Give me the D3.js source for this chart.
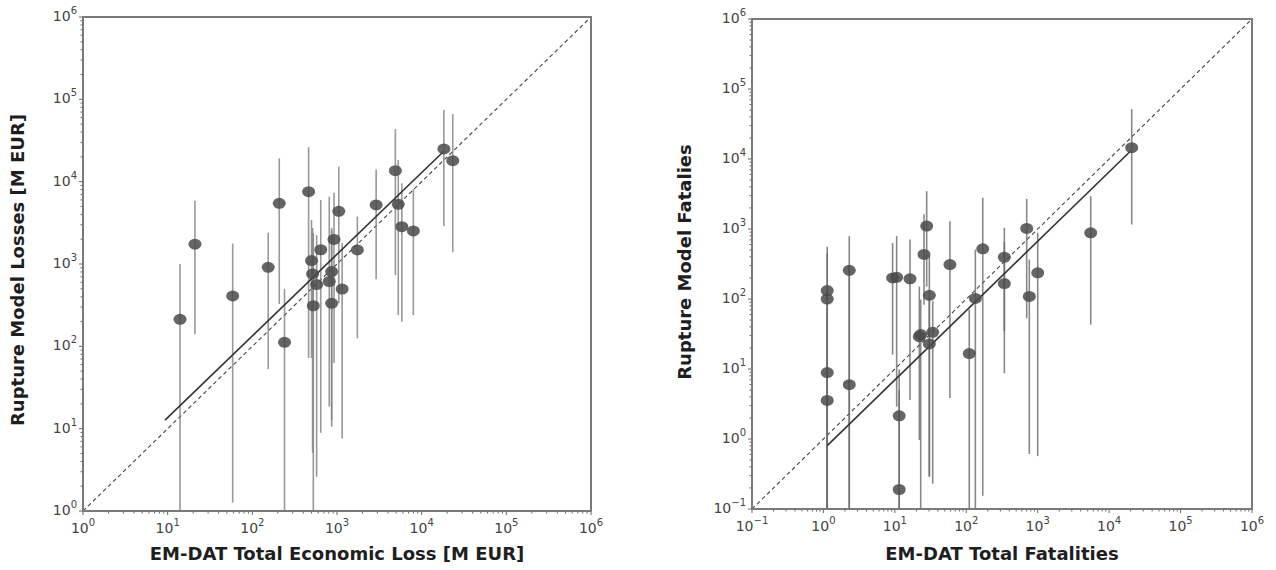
<!DOCTYPE html>
<html>
<head>
<meta charset="utf-8" />
<title></title>
<style>
html, body {
    padding: 0px;
    margin: 0px;
    background: #fff;
}
svg text {
    font-family: "DejaVu Sans", sans-serif;
}
.axis-title {
    font-family: "DejaVu Sans", sans-serif;
    font-weight: bold;
    font-size: 18px;
    fill: #1e1e1e;
}
</style>
</head>
<body>
<div id="chart"></div>

<script src="https://cdnjs.cloudflare.com/ajax/libs/d3/7.8.5/d3.min.js"></script>
<script>
// ---- left panel: economic loss (M EUR) ----
var lossEmdat = [14, 21, 58.6, 154, 208, 240, 462, 500, 515, 525, 575, 643, 865, 810, 865, 922, 1050, 1150, 1740, 2900, 4890, 5290, 5830, 7980, 18300, 23300];
var lossModel = [213, 1740, 410, 910, 5450, 112, 7550, 1100, 757, 311, 563, 1490, 810, 613, 333, 1990, 4370, 496, 1480, 5220, 13600, 5300, 2840, 2520, 25000, 18000];
var lossLow   = [0.5, 140, 1.26, 53, 327, 0.5, 72, 72, 5.1, 0.5, 2.6, 8.9, 10.6, 18.5, 12.7, 62.8, 336, 7.6, 125, 652, 735, 240, 199, 240, 2900, 1390];
var lossHigh  = [1000, 5870, 1780, 2400, 19200, 500, 26200, 3420, 2740, 2380, 2250, 5990, 2580, 6560, 2740, 7350, 15200, 1800, 3760, 14100, 43600, 18300, 9560, 8080, 74300, 66200];
var lossFitX  = [9.3, 18000];
var lossFitY  = [12.7, 23100];

// ---- right panel: fatalities ----
var fatEmdat = [1.13, 1.13, 1.13, 1.13, 2.3, 2.3, 9.3, 10.6, 11.5, 11.5, 16.3, 22, 23, 25.6, 27.9, 30.4, 30.4, 33.9, 59, 110, 134, 170, 341, 341, 701, 763, 1000, 5520, 20700];
var fatModel = [132, 100, 8.9, 3.55, 257, 5.96, 200, 204, 2.14, 0.19, 194, 29, 31, 433, 1100, 113, 22.8, 33.4, 310, 16.6, 102, 521, 395, 166, 1020, 109, 237, 883, 14500];
var fatLow   = [0.05, 0.05, 0.05, 0.05, 0.05, 0.05, 16, 2.9, 0.05, 0.05, 3.6, 0.97, 0.05, 83, 150, 0.29, 0.29, 0.23, 3.85, 0.05, 0.05, 0.155, 8.7, 35, 53, 0.61, 0.57, 43, 1160];
var fatHigh  = [557, 450, 120, 60, 790, 300, 630, 790, 9.8, 5, 708, 151, 98, 1620, 3470, 407, 100, 93, 1290, 71, 510, 2800, 1040, 650, 2700, 366, 883, 2950, 51500];
var fatFitX  = [1.13, 20000];
var fatFitY  = [0.805, 13000];

var lossDecades = [0, 1, 2, 3, 4, 5, 6];
var fatDecades  = [-1, 0, 1, 2, 3, 4, 5, 6];

var svg = d3.select("#chart").append("svg")
    .attr("width", 1276)
    .attr("height", 570);

function supLabel(sel, exp) {
    sel.append("tspan").text("10");
    sel.append("tspan")
        .attr("dy", -7)
        .attr("font-size", 10)
        .text(exp < 0 ? "\u2212" + (-exp) : exp);
}

function drawPanel(cfg) {
    var x = d3.scaleLog().domain(cfg.domain).range([cfg.left, cfg.right]);
    var y = d3.scaleLog().domain(cfg.domain).range([cfg.bottom, cfg.top]);
    var g = svg.append("g");

    var clipId = "clip" + cfg.id;
    svg.append("defs").append("clipPath").attr("id", clipId)
        .append("rect")
        .attr("x", cfg.left).attr("y", cfg.top)
        .attr("width", cfg.right - cfg.left)
        .attr("height", cfg.bottom - cfg.top);

    var plot = g.append("g").attr("clip-path", "url(#" + clipId + ")");

    // 1:1 line
    plot.append("line")
        .attr("x1", x(cfg.domain[0])).attr("y1", y(cfg.domain[0]))
        .attr("x2", x(cfg.domain[1])).attr("y2", y(cfg.domain[1]))
        .attr("stroke", "#444")
        .attr("stroke-width", 1.1)
        .attr("stroke-dasharray", "4,3");

    // error bars
    plot.selectAll("line.err")
        .data(cfg.xs)
        .enter()
        .append("line")
        .attr("class", "err")
        .attr("x1", function(d) { return x(d); })
        .attr("x2", function(d) { return x(d); })
        .attr("y1", function(d, i) { return y(cfg.lo[i]); })
        .attr("y2", function(d, i) { return y(cfg.hi[i]); })
        .attr("stroke", cfg.barColor)
        .attr("stroke-opacity", 0.8)
        .attr("stroke-width", 1.6);

    // fit line
    plot.append("line")
        .attr("x1", x(cfg.fitX[0])).attr("y1", y(cfg.fitY[0]))
        .attr("x2", x(cfg.fitX[1])).attr("y2", y(cfg.fitY[1]))
        .attr("stroke", "#333")
        .attr("stroke-width", 1.6);

    // markers
    plot.selectAll("ellipse")
        .data(cfg.xs)
        .enter()
        .append("ellipse")
        .attr("cx", function(d) { return x(d); })
        .attr("cy", function(d, i) { return y(cfg.ys[i]); })
        .attr("rx", 6.5)
        .attr("ry", 5.5)
        .attr("fill", "#4a4a4a")
        .attr("fill-opacity", 0.85);

    // minor + major ticks, left and bottom, outward
    var ticks = g.append("g").attr("stroke", "#666").attr("stroke-width", 1);
    cfg.decades.forEach(function(e, k) {
        var v = Math.pow(10, e);
        ticks.append("line")
            .attr("x1", x(v)).attr("x2", x(v))
            .attr("y1", cfg.bottom).attr("y2", cfg.bottom + 4);
        ticks.append("line")
            .attr("y1", y(v)).attr("y2", y(v))
            .attr("x1", cfg.left).attr("x2", cfg.left - 4);
        if (k < cfg.decades.length - 1) {
            for (var m = 2; m < 10; m++) {
                var mv = m * v;
                ticks.append("line")
                    .attr("x1", x(mv)).attr("x2", x(mv))
                    .attr("y1", cfg.bottom).attr("y2", cfg.bottom + 2.5);
                ticks.append("line")
                    .attr("y1", y(mv)).attr("y2", y(mv))
                    .attr("x1", cfg.left).attr("x2", cfg.left - 2.5);
            }
        }

        g.append("text")
            .attr("x", x(v))
            .attr("y", cfg.bottom + 22)
            .attr("text-anchor", "middle")
            .attr("font-size", 14)
            .attr("fill", "#444")
            .call(supLabel, e);

        g.append("text")
            .attr("x", cfg.left - 6)
            .attr("y", y(v) + 4)
            .attr("text-anchor", "end")
            .attr("font-size", 14)
            .attr("fill", "#444")
            .call(supLabel, e);
    });

    // frame
    g.append("rect")
        .attr("x", cfg.left).attr("y", cfg.top)
        .attr("width", cfg.right - cfg.left)
        .attr("height", cfg.bottom - cfg.top)
        .attr("fill", "none")
        .attr("stroke", "#7a7a7a")
        .attr("stroke-width", 2);

    g.append("text")
        .attr("class", "axis-title")
        .attr("x", (cfg.left + cfg.right) / 2)
        .attr("y", 560)
        .attr("text-anchor", "middle")
        .text(cfg.xTitle);

    g.append("text")
        .attr("class", "axis-title")
        .attr("transform", "translate(" + cfg.yTitleX + "," + cfg.yTitleY + ") rotate(-90)")
        .attr("text-anchor", "middle")
        .text(cfg.yTitle);
}

drawPanel({
    id: "loss",
    domain: [1, 1e6],
    decades: lossDecades,
    left: 83, right: 591, top: 17, bottom: 511,
    xs: lossEmdat, ys: lossModel, lo: lossLow, hi: lossHigh,
    fitX: lossFitX, fitY: lossFitY,
    barColor: "#808080",
    xTitle: "EM-DAT Total Economic Loss [M EUR]",
    yTitle: "Rupture Model Losses [M EUR]",
    yTitleX: 24, yTitleY: 270
});

drawPanel({
    id: "fat",
    domain: [0.1, 1e6],
    decades: fatDecades,
    left: 752, right: 1252, top: 19, bottom: 509,
    xs: fatEmdat, ys: fatModel, lo: fatLow, hi: fatHigh,
    fitX: fatFitX, fitY: fatFitY,
    barColor: "#6a6a6a",
    xTitle: "EM-DAT Total Fatalities",
    yTitle: "Rupture Model Fatalies",
    yTitleX: 691, yTitleY: 262
});
</script>
</body>
</html>
